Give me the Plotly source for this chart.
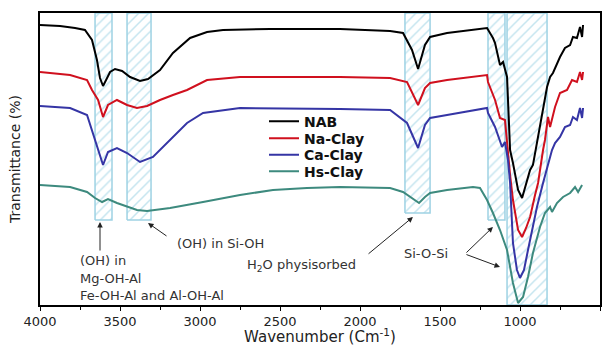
import plotly.graph_objects as go

# ---- data (wavenumber in cm-1, transmittance in arbitrary offset units) ----
nab_w = [4000, 3875, 3781, 3719, 3675, 3644, 3625, 3606, 3587, 3562, 3531, 3487, 3437, 3375, 3325,
         3250, 3169, 3062, 2956, 2856, 2562, 2125, 1812, 1731, 1675, 1637, 1594, 1562, 1456, 1206,
         1169, 1156, 1125, 1106, 1081, 1062, 1044, 1012, 987, 962, 937, 919, 894, 856, 831, 812,
         794, 750, 719, 687, 669, 644, 625, 612, 606]
nab_t = [280, 279, 277, 275, 265, 245, 227, 219, 225, 233, 236, 234, 228, 224, 226,
         235, 252, 267, 273, 275, 276, 276, 274, 272, 255, 236, 260, 268, 272, 277,
         267, 262, 240, 243, 228, 155, 142, 115, 107, 120, 135, 140, 162, 198, 218, 228,
         232, 248, 257, 260, 268, 267, 278, 268, 280]

na_w = [4000, 3812, 3706, 3675, 3637, 3606, 3575, 3519, 3456, 3394, 3331, 3250, 3169, 3081, 2956,
        2750, 2125, 1812, 1706, 1675, 1637, 1594, 1562, 1456, 1206, 1200, 1156, 1125, 1094, 1062,
        1044, 1012, 987, 962, 937, 906, 887, 856, 844, 825, 812, 781, 750, 706, 675, 644, 625,
        612, 606]
na_t = [233, 230, 225, 215, 205, 188, 200, 205, 200, 197, 199, 205, 210, 215, 225,
        228, 228, 227, 223, 213, 200, 217, 222, 225, 230, 223, 205, 187, 185, 130,
        105, 75, 68, 77, 88, 110, 122, 155, 165, 188, 178, 198, 212, 215, 225, 223, 233,
        225, 233]

ca_w = [4000, 3812, 3706, 3669, 3637, 3606, 3575, 3519, 3456, 3375, 3294, 3187, 3081, 2981, 2750,
        2125, 1812, 1706, 1675, 1637, 1594, 1562, 1456, 1206, 1200, 1156, 1112, 1094, 1075, 1062,
        1044, 1019, 1000, 975, 950, 919, 894, 856, 831, 812, 800, 781, 750, 719, 687, 669, 644,
        625, 612, 606]
ca_t = [199, 197, 190, 172, 155, 140, 153, 157, 152, 143, 148, 165, 182, 192, 197,
        196, 195, 182, 170, 157, 180, 187, 190, 197, 192, 178, 158, 163, 145, 122,
        62, 35, 27, 35, 55, 80, 98, 122, 138, 148, 155, 162, 168, 178, 180, 188, 185,
        197, 187, 197]

hs_w = [4000, 3812, 3706, 3656, 3612, 3575, 3519, 3394, 3331, 3187, 2981, 2750, 2544, 2331, 2125,
        1812, 1731, 1675, 1631, 1594, 1562, 1456, 1294, 1250, 1206, 1169, 1125, 1081, 1044, 1012,
        981, 950, 919, 875, 844, 812, 800, 769, 731, 687, 656, 637, 612]
hs_t = [120, 118, 113, 107, 103, 106, 102, 95, 94, 97, 103, 110, 115, 117, 118,
        117, 113, 107, 102, 108, 112, 115, 118, 117, 105, 92, 75, 55, 22, 2,
        8, 28, 52, 78, 92, 98, 93, 102, 108, 112, 118, 113, 120]

series_names = ["NAB", "Na-Clay", "Ca-Clay", "Hs-Clay"]
series_colors = ["#000000", "#d0101e", "#3535a5", "#3d8a7e"]

# highlighted bands (wavenumber start, end, lower transmittance bound)
band_lo = [3656, 3456, 1719, 1200, 1081]
band_hi = [3550, 3306, 1562, 1094, 831]
band_bottom = [85, 85, 92, 85, 0]
Y_TOP = 292

fig = go.Figure()

for lo, hi, bot in zip(band_lo, band_hi, band_bottom):
    fig.add_trace(go.Scatter(
        x=[lo, hi, hi, lo, lo], y=[bot, bot, Y_TOP, Y_TOP, bot],
        mode="lines", fill="toself", fillcolor="rgba(0,0,0,0)",
        fillpattern=dict(shape="/", fgcolor="#8ccbe0", bgcolor="rgba(255,255,255,0)",
                         size=7, solidity=0.22),
        line=dict(color="#9ed2e4", width=1.5),
        showlegend=False, hoverinfo="skip"))

legend_keys = ["legend", "legend2", "legend3", "legend4"]
for name, color, xs, ys, lk in zip(series_names, series_colors,
                                   [nab_w, na_w, ca_w, hs_w], [nab_t, na_t, ca_t, hs_t],
                                   legend_keys):
    fig.add_trace(go.Scatter(x=xs, y=ys, mode="lines", name=name, legend=lk,
                             line=dict(color=color, width=2)))

FONT = "DejaVu Sans, Arial, sans-serif"
TXT = "#333333"

def arrow(x, y, ax, ay):
    fig.add_annotation(x=x, y=y, ax=ax, ay=ay, xref="x", yref="y", axref="x", ayref="y",
                       text="", showarrow=True, arrowhead=2, arrowsize=1.1,
                       arrowwidth=1, arrowcolor="#222222")

def label(x, y, text):
    fig.add_annotation(x=x, y=y, xref="x", yref="y", text=text, showarrow=False,
                       xanchor="left", yanchor="middle",
                       font=dict(family=FONT, size=13, color=TXT))

arrow(3625, 83, 3625, 53)
arrow(3325, 82, 3200, 68)
arrow(1669, 88, 1956, 50)
arrow(1169, 78, 1344, 51)
arrow(1125, 38, 1344, 51)

label(3762, 45, "(OH) in")
label(3762, 27, "Mg-OH-Al")
label(3762, 10, "Fe-OH-Al and Al-OH-Al")
label(3156, 62, "(OH) in Si-OH")
label(2719, 40, "H<sub>2</sub>O physisorbed")
label(1737, 52, "Si-O-Si")

legend_rows = [0.628, 0.570, 0.513, 0.457]
legend_style = dict(x=0.400, xanchor="left", yanchor="middle",
                    bgcolor="rgba(0,0,0,0)", borderwidth=0,
                    font=dict(family=FONT, size=14, color="#111111", weight="bold"))

fig.update_layout(
    width=612, height=346,
    margin=dict(l=40, r=12, t=13, b=41),
    paper_bgcolor="white", plot_bgcolor="white",
    font=dict(family=FONT, color="#222222"),
    showlegend=True,
    legend=dict(y=legend_rows[0], **legend_style),
    legend2=dict(y=legend_rows[1], **legend_style),
    legend3=dict(y=legend_rows[2], **legend_style),
    legend4=dict(y=legend_rows[3], **legend_style),
    xaxis=dict(range=[4000, 500], tickvals=[4000, 3500, 3000, 2500, 2000, 1500, 1000, 500],
               automargin=False,
               showgrid=False, zeroline=False, showline=True, linecolor="black",
               linewidth=1.5, mirror=True, ticks="outside", ticklen=4, tickwidth=1.2,
               tickcolor="black", tickfont=dict(family=FONT, size=13, color="#222222"),
               minor=dict(dtick=250, ticks="outside", ticklen=3, tickcolor="black",
                          showgrid=False),
               title=dict(text="Wavenumber (Cm<sup>-1</sup>)", standoff=2,
                          font=dict(family=FONT, size=15, color="#222222"))),
    yaxis=dict(range=[0, Y_TOP], automargin=False, showticklabels=False, showgrid=False,
               zeroline=False,
               showline=True, linecolor="black", linewidth=1.5, mirror=True, ticks="",
               title=dict(text="Transmittance (%)", standoff=14,
                          font=dict(family=FONT, size=14, color="#222222"))),
)

fig.write_html("out.html", config={"displayModeBar": False},
               post_script="document.body.style.margin='0px';")
